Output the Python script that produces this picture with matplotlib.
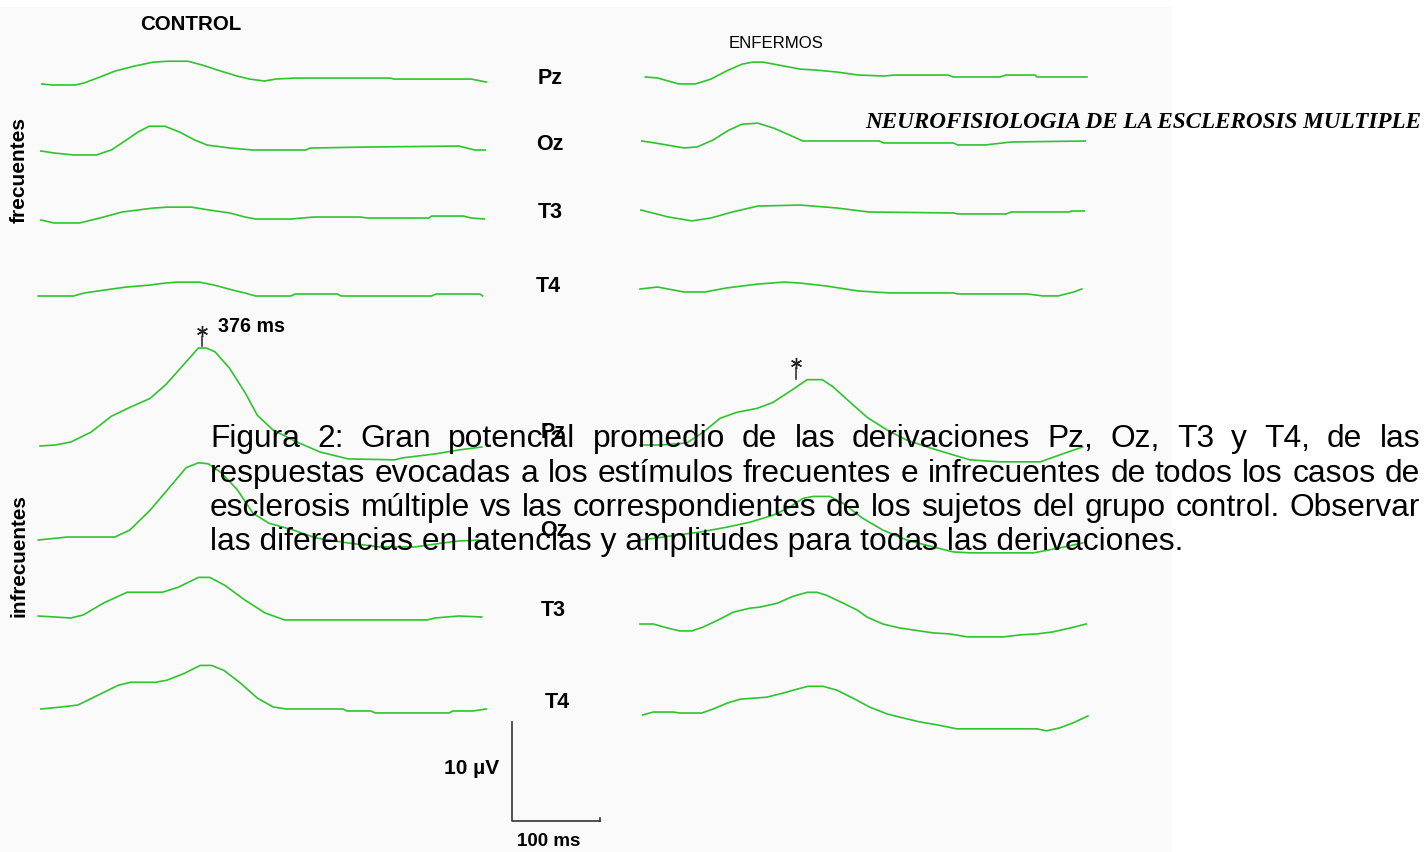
import matplotlib
matplotlib.use("Agg")
import matplotlib.pyplot as plt
from matplotlib.patches import Rectangle

# grand averages: time from start of sweep (ms), amplitude (uV)
# CONTROL, estimulos frecuentes
ctrl_frec_pz_t = [2, 14, 40, 50, 68, 85, 107, 128, 145, 168, 185, 202, 224, 238, 255, 268, 290, 398, 402, 490, 507]
ctrl_frec_pz_uv = [0, -0.1, -0.1, 0.1, 0.7, 1.3, 1.8, 2.2, 2.3, 2.3, 1.9, 1.4, 0.8, 0.5, 0.3, 0.5, 0.6, 0.6, 0.5, 0.5, 0.2]
ctrl_frec_oz_t = [1, 16, 38, 64, 81, 98, 111, 124, 142, 159, 176, 190, 216, 242, 302, 307, 372, 476, 494, 506]
ctrl_frec_oz_uv = [0, -0.2, -0.4, -0.4, 0.1, 1.1, 1.9, 2.5, 2.5, 1.9, 1.1, 0.6, 0.3, 0.1, 0.1, 0.3, 0.4, 0.5, 0.1, 0.1]
ctrl_frec_t3_t = [1, 16, 45, 68, 93, 128, 145, 172, 193, 216, 233, 245, 285, 311, 364, 372, 442, 445, 481, 490, 505]
ctrl_frec_t3_uv = [0, -0.3, -0.3, 0.2, 0.8, 1.2, 1.3, 1.3, 1.0, 0.7, 0.3, 0.1, 0.1, 0.3, 0.3, 0.2, 0.2, 0.4, 0.4, 0.2, 0.1]
ctrl_frec_t4_t = [-2, 38, 50, 81, 98, 124, 142, 155, 181, 198, 219, 233, 245, 285, 290, 338, 342, 445, 450, 500, 503]
ctrl_frec_t4_uv = [0, 0, 0.3, 0.7, 0.9, 1.1, 1.3, 1.4, 1.4, 1.1, 0.6, 0.3, 0, 0, 0.2, 0.2, 0, 0, 0.2, 0.2, 0]

# ENFERMOS, estimulos frecuentes
enf_frec_pz_t = [6, 20, 44, 63, 81, 98, 116, 128, 140, 164, 182, 200, 224, 248, 277, 290, 350, 356, 409, 416, 449, 451, 508]
enf_frec_pz_uv = [0, -0.1, -0.7, -0.7, -0.2, 0.6, 1.3, 1.5, 1.5, 1.1, 0.8, 0.7, 0.5, 0.2, 0.1, 0.2, 0.2, 0, 0, 0.2, 0.2, 0, 0]
enf_frec_oz_t = [2, 17, 50, 65, 83, 101, 116, 134, 152, 170, 185, 206, 272, 277, 356, 361, 392, 422, 506]
enf_frec_oz_uv = [0, -0.2, -0.7, -0.6, 0.1, 1.1, 1.7, 1.8, 1.3, 0.6, 0, 0, 0, -0.2, -0.2, -0.4, -0.4, -0.1, 0]
enf_frec_t3_t = [1, 32, 59, 81, 105, 134, 182, 224, 260, 356, 361, 416, 422, 488, 490, 505]
enf_frec_t3_uv = [0, -0.7, -1.1, -0.8, -0.2, 0.4, 0.5, 0.2, -0.2, -0.3, -0.4, -0.4, -0.2, -0.2, -0.1, -0.1]
enf_frec_t4_t = [0, 20, 50, 74, 98, 134, 164, 182, 212, 248, 284, 356, 361, 440, 458, 475, 493, 502]
enf_frec_t4_uv = [0, 0.2, -0.3, -0.3, 0.1, 0.5, 0.7, 0.6, 0.3, -0.2, -0.4, -0.4, -0.5, -0.5, -0.7, -0.7, -0.3, 0]

# CONTROL, estimulos infrecuentes
ctrl_infr_pz_t = [0, 17, 35, 58, 81, 102, 125, 143, 161, 180, 189, 199, 215, 233, 247, 265, 292, 318, 350, 403, 412, 449, 476, 502]
ctrl_infr_pz_uv = [0, 0.1, 0.4, 1.4, 3.0, 3.9, 4.8, 6.2, 8.0, 9.9, 9.9, 9.5, 7.9, 5.4, 3.1, 1.6, 0.4, -0.6, -1.3, -1.4, -1.2, -0.8, -0.4, -0.1]
ctrl_infr_oz_t = [-2, 31, 85, 102, 125, 148, 166, 180, 191, 206, 224, 242, 260, 288, 314, 350, 386, 426, 458, 476, 502]
ctrl_infr_oz_uv = [0, 0.3, 0.3, 1.0, 3.0, 5.4, 7.3, 7.8, 7.7, 6.8, 5.1, 2.7, 1.7, 1.0, 0.2, -0.3, -0.7, -0.7, -0.3, -0.1, 0]
ctrl_infr_t3_t = [-2, 35, 49, 72, 99, 139, 157, 180, 193, 210, 233, 256, 278, 440, 449, 476, 502]
ctrl_infr_t3_uv = [0, -0.2, 0.1, 1.3, 2.4, 2.4, 2.9, 3.9, 3.9, 3.1, 1.6, 0.3, -0.4, -0.4, -0.2, 0, -0.1]
ctrl_infr_t4_t = [1, 24, 43, 66, 89, 103, 131, 144, 164, 182, 195, 209, 228, 247, 265, 280, 344, 349, 376, 381, 465, 469, 492, 507]
ctrl_infr_t4_uv = [0, 0.2, 0.4, 1.4, 2.4, 2.7, 2.7, 2.9, 3.6, 4.4, 4.4, 3.9, 2.6, 1.1, 0.2, 0, 0, -0.2, -0.2, -0.4, -0.4, -0.2, -0.2, 0]

# ENFERMOS, estimulos infrecuentes
enf_infr_pz_t = [0, 23, 53, 72, 91, 110, 133, 151, 170, 190, 207, 219, 239, 258, 281, 303, 330, 356, 375, 409, 455, 477, 503]
enf_infr_pz_uv = [0, 0, 0.2, 1.3, 2.7, 3.3, 3.7, 4.3, 5.4, 6.6, 6.6, 5.9, 4.3, 2.8, 1.5, 0.5, -0.3, -1.0, -1.5, -1.7, -1.7, -1.0, -0.2]
enf_infr_oz_t = [0, 19, 42, 68, 99, 125, 151, 170, 185, 197, 216, 231, 253, 276, 303, 333, 356, 375, 409, 447, 477, 503]
enf_infr_oz_uv = [0, 0.2, 0.5, 0.8, 1.3, 1.8, 2.5, 3.3, 4.2, 4.4, 4.4, 3.7, 2.2, 1.0, 0, -0.7, -1.2, -1.3, -1.3, -1.3, -0.8, -0.3]
enf_infr_t3_t = [0, 15, 31, 45, 59, 72, 91, 106, 125, 136, 156, 174, 190, 201, 212, 231, 247, 258, 276, 295, 318, 333, 352, 372, 413, 432, 451, 469, 489, 507]
enf_infr_t3_uv = [0, 0, -0.4, -0.7, -0.7, -0.3, 0.5, 1.2, 1.6, 1.7, 2.1, 2.8, 3.2, 3.2, 2.9, 2.1, 1.4, 0.7, 0, -0.4, -0.7, -0.9, -1.0, -1.3, -1.3, -1.1, -1.0, -0.8, -0.4, 0]
enf_infr_t4_t = [3, 15, 38, 45, 70, 83, 99, 114, 144, 162, 178, 191, 208, 224, 242, 261, 281, 299, 318, 338, 360, 451, 462, 477, 492, 509]
enf_infr_t4_uv = [0, 0.3, 0.3, 0.2, 0.2, 0.6, 1.2, 1.6, 1.8, 2.2, 2.6, 2.9, 2.9, 2.5, 1.7, 0.8, 0.1, -0.3, -0.7, -1.0, -1.4, -1.4, -1.6, -1.3, -0.8, -0.1]

channels = ["Pz", "Oz", "T3", "T4"]
latency_label = "376 ms"
caption_lines = [
    "Figura 2: Gran potencial promedio de las derivaciones Pz, Oz, T3 y T4, de las",
    "respuestas evocadas a los estímulos frecuentes e infrecuentes de todos los casos de",
    "esclerosis múltiple vs las correspondientes de los sujetos del grupo control. Observar",
    "las diferencias en latencias y amplitudes para todas las derivaciones.",
]

# ---- layout (pixels) ----
W, H = 1426, 852
PX_PER_MS = 0.88   # 100 ms bar = 88 px
PX_PER_UV = 9.9    # 10 uV bar = 99 px
GREEN = "#2dc42d"
BOLD_FONT = ["Liberation Sans", "DejaVu Sans"]
THIN_FONT = ["Liberation Sans", "DejaVu Sans"]
CAPTION_FONT = ["Liberation Sans", "DejaVu Sans"]

CTRL_X, ENF_X = 40, 640
CTRL_ROWS = [84, 151, 220, 296, 446, 540, 616, 709]
ENF_ROWS = [77, 141, 210, 289, 445, 540, 624, 715]
LABEL_XY = [(550, 78), (550, 144), (550, 213), (548, 286),
            (553, 433), (554, 530), (553, 610), (557, 702)]

fig = plt.figure(figsize=(W / 100, H / 100), dpi=100)
fig.patch.set_facecolor("white")

bg = fig.add_axes([0, 0, 1, 1], zorder=0)
bg.set_xlim(0, W)
bg.set_ylim(H, 0)
bg.axis("off")
bg.add_patch(Rectangle((0, 7), 1172, H - 7, facecolor="#fafafa", edgecolor="none"))


def column_axes(x_px, w_px):
    ax = fig.add_axes([x_px / W, 0, w_px / W, 1], zorder=1)
    ax.set_xlim(0, w_px / PX_PER_MS)
    ax.set_ylim(-H / PX_PER_UV, 0)
    ax.axis("off")
    return ax


ax_ctrl = column_axes(CTRL_X, 600)
ax_enf = column_axes(ENF_X, 500)

ctrl_traces = [(ctrl_frec_pz_t, ctrl_frec_pz_uv), (ctrl_frec_oz_t, ctrl_frec_oz_uv),
               (ctrl_frec_t3_t, ctrl_frec_t3_uv), (ctrl_frec_t4_t, ctrl_frec_t4_uv),
               (ctrl_infr_pz_t, ctrl_infr_pz_uv), (ctrl_infr_oz_t, ctrl_infr_oz_uv),
               (ctrl_infr_t3_t, ctrl_infr_t3_uv), (ctrl_infr_t4_t, ctrl_infr_t4_uv)]
enf_traces = [(enf_frec_pz_t, enf_frec_pz_uv), (enf_frec_oz_t, enf_frec_oz_uv),
              (enf_frec_t3_t, enf_frec_t3_uv), (enf_frec_t4_t, enf_frec_t4_uv),
              (enf_infr_pz_t, enf_infr_pz_uv), (enf_infr_oz_t, enf_infr_oz_uv),
              (enf_infr_t3_t, enf_infr_t3_uv), (enf_infr_t4_t, enf_infr_t4_uv)]

for ax, traces, rows in [(ax_ctrl, ctrl_traces, CTRL_ROWS), (ax_enf, enf_traces, ENF_ROWS)]:
    for (t, uv), row in zip(traces, rows):
        base = -row / PX_PER_UV
        ax.plot(t, [v + base for v in uv], color=GREEN, lw=1.2, clip_on=False,
                solid_joinstyle="round")


def latency_mark(ax, t, row, v_lo, v_hi, v_star):
    base = -row / PX_PER_UV
    ax.plot([t, t], [base + v_lo, base + v_hi], color="#222222", lw=1.1, clip_on=False)
    ax.plot([t], [base + v_star], marker=(6, 2, 0), ms=8, mew=1.0, color="#222222", clip_on=False)


latency_mark(ax_ctrl, 184, CTRL_ROWS[4], 10.1, 11.0, 11.6)
latency_mark(ax_enf, 177, ENF_ROWS[4], 6.7, 7.8, 8.3)

# calibration bar: 100 ms x 10 uV
bar_t = (512 - CTRL_X) / PX_PER_MS
bar_v = -821 / PX_PER_UV
ax_ctrl.plot([bar_t, bar_t, bar_t + 100], [bar_v + 10, bar_v, bar_v], color="#333333", lw=1.2, clip_on=False)
ax_ctrl.plot([bar_t + 100, bar_t + 100], [bar_v, bar_v + 0.35], color="#333333", lw=1.2, clip_on=False)

# ---- text layer ----
txt = fig.add_axes([0, 0, 1, 1], zorder=2)
txt.set_xlim(0, W)
txt.set_ylim(H, 0)
txt.axis("off")
renderer = fig.canvas.get_renderer()


def fit_text(x, y, s, width, rotation=0, **kw):
    t = txt.text(x, y, s, fontsize=10, rotation=rotation, **kw)
    bb = t.get_window_extent(renderer)
    t.set_fontsize(10 * width / (bb.height if rotation else bb.width))
    return t


fit_text(191, 24, "CONTROL", 101, ha="center", va="center", family=BOLD_FONT, weight="bold")
fit_text(776, 43, "ENFERMOS", 95, ha="center", va="center", family=THIN_FONT)
fit_text(19, 170, "frecuentes", 106, rotation=90, ha="center", va="center", family=BOLD_FONT, weight="bold")
fit_text(19, 556, "infrecuentes", 123, rotation=90, ha="center", va="center", family=BOLD_FONT, weight="bold")
fit_text(251, 326, latency_label, 67, ha="center", va="center", family=BOLD_FONT, weight="bold")
fit_text(472, 768, "10 µV", 55, ha="center", va="center", family=BOLD_FONT, weight="bold")
fit_text(549, 841, "100 ms", 64, ha="center", va="center", family=BOLD_FONT, weight="bold")
fit_text(1421, 122, "NEUROFISIOLOGIA DE LA ESCLEROSIS MULTIPLE", 555, ha="right", va="center",
         family=["Liberation Serif", "DejaVu Serif"], weight="bold", style="italic")

lab = fit_text(*LABEL_XY[0], channels[0], 25, ha="center", va="center", family=BOLD_FONT, weight="bold")
label_size = lab.get_fontsize()
for i, (x, y) in enumerate(LABEL_XY[1:], start=1):
    txt.text(x, y, channels[i % 4], fontsize=label_size, ha="center", va="center",
             family=BOLD_FONT, weight="bold")

# justified caption
CAP_LEFT, CAP_RIGHT = 210, 1420
CAP_BASELINES = [447, 482, 516, 550]
probe = txt.text(0, 0, caption_lines[-1], fontsize=10, family=CAPTION_FONT)
cap_size = 10 * 975 / probe.get_window_extent(renderer).width
probe.remove()

for line, y in zip(caption_lines[:-1], CAP_BASELINES[:-1]):
    words = line.split()
    arts = [txt.text(0, y, w, fontsize=cap_size, family=CAPTION_FONT, va="baseline", zorder=5)
            for w in words]
    widths = [a.get_window_extent(renderer).width for a in arts]
    gap = (CAP_RIGHT - CAP_LEFT - sum(widths)) / (len(words) - 1)
    x = CAP_LEFT
    for a, w in zip(arts, widths):
        a.set_x(x)
        x += w + gap
txt.text(CAP_LEFT, CAP_BASELINES[-1], caption_lines[-1], fontsize=cap_size,
         family=CAPTION_FONT, va="baseline", zorder=5)

fig.savefig("out.png", dpi=100)
